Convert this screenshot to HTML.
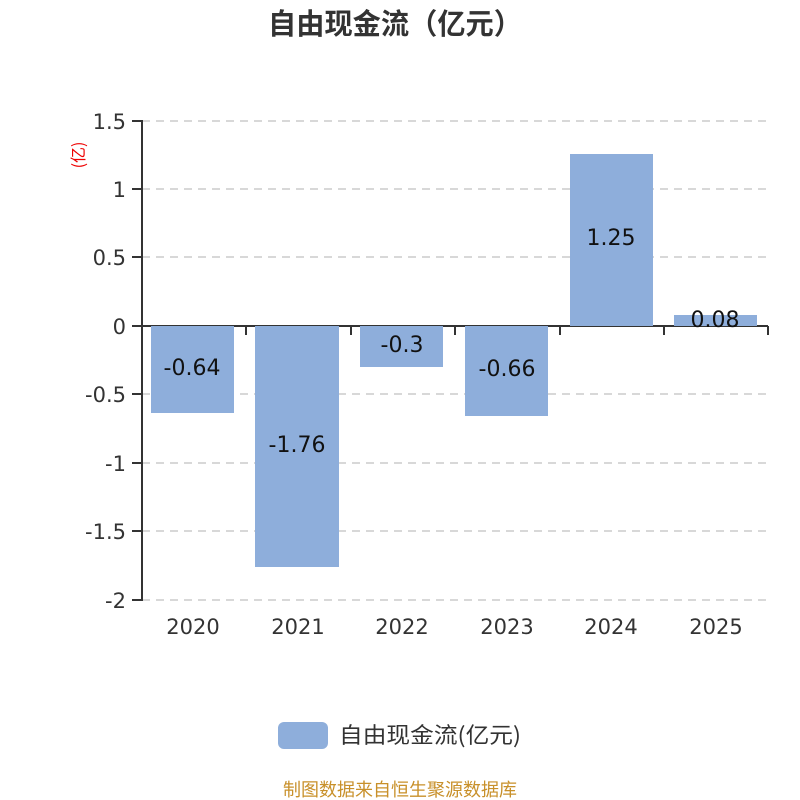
<!DOCTYPE html>
<html><head><meta charset="utf-8"><style>
html,body{margin:0;padding:0;background:#fff;width:800px;height:800px;overflow:hidden}
svg text{font-family:"DejaVu Sans","Noto Sans CJK SC",sans-serif}
</style></head><body>
<svg width="800" height="800" viewBox="0 0 800 800" xmlns="http://www.w3.org/2000/svg">
<rect width="800" height="800" fill="#fff"/>
<text x="395" y="34" text-anchor="middle" font-size="29" font-weight="bold" fill="#333" textLength="254" lengthAdjust="spacingAndGlyphs" style="font-family:'Noto Sans CJK SC',sans-serif">自由现金流（亿元）</text>
<g stroke="#ccc" stroke-width="1.5" stroke-dasharray="8,6">
<line x1="142" y1="121" x2="768" y2="121"/>
<line x1="142" y1="189" x2="768" y2="189"/>
<line x1="142" y1="257" x2="768" y2="257"/>
<line x1="142" y1="394" x2="768" y2="394"/>
<line x1="142" y1="463" x2="768" y2="463"/>
<line x1="142" y1="531" x2="768" y2="531"/>
<line x1="142" y1="600" x2="768" y2="600"/>
</g>
<text transform="translate(84,155) rotate(-90)" text-anchor="middle" font-size="16" fill="#e00" style="font-family:'Noto Sans CJK SC',sans-serif">(亿)</text>
<g stroke="#333" stroke-width="2" fill="none">
<line x1="142" y1="120" x2="142" y2="601"/>
<line x1="132" y1="121" x2="142" y2="121"/>
<line x1="132" y1="189" x2="142" y2="189"/>
<line x1="132" y1="257" x2="142" y2="257"/>
<line x1="132" y1="326" x2="142" y2="326"/>
<line x1="132" y1="394" x2="142" y2="394"/>
<line x1="132" y1="463" x2="142" y2="463"/>
<line x1="132" y1="531" x2="142" y2="531"/>
<line x1="132" y1="600" x2="142" y2="600"/>
<line x1="142" y1="326" x2="768" y2="326"/>
<line x1="246" y1="326" x2="246" y2="335"/>
<line x1="351" y1="326" x2="351" y2="335"/>
<line x1="455" y1="326" x2="455" y2="335"/>
<line x1="560" y1="326" x2="560" y2="335"/>
<line x1="664" y1="326" x2="664" y2="335"/>
<line x1="768" y1="326" x2="768" y2="335"/>
</g>
<g font-size="21" fill="#333" text-anchor="end">
<text x="126" y="129">1.5</text>
<text x="126" y="197">1</text>
<text x="126" y="265">0.5</text>
<text x="126" y="334">0</text>
<text x="126" y="402">-0.5</text>
<text x="126" y="471">-1</text>
<text x="126" y="539">-1.5</text>
<text x="126" y="608">-2</text>
</g>
<g fill="#8eaedb">
<rect x="151" y="326" width="83" height="87"/>
<rect x="255" y="326" width="84" height="241"/>
<rect x="360" y="326" width="83" height="41"/>
<rect x="465" y="326" width="83" height="90"/>
<rect x="570" y="154" width="83" height="172"/>
<rect x="674" y="315" width="83" height="11"/>
</g>
<g font-size="22" fill="#111" text-anchor="middle">
<text x="192" y="375">-0.64</text>
<text x="297" y="452">-1.76</text>
<text x="402" y="352">-0.3</text>
<text x="507" y="376">-0.66</text>
<text x="611" y="245">1.25</text>
<text x="715" y="327">0.08</text>
</g>
<g font-size="21" fill="#333" text-anchor="middle">
<text x="193" y="634">2020</text>
<text x="298" y="634">2021</text>
<text x="402" y="634">2022</text>
<text x="507" y="634">2023</text>
<text x="611" y="634">2024</text>
<text x="716" y="634">2025</text>
</g>
<rect x="278" y="722" width="50" height="27" rx="6" fill="#8eaedb"/>
<text x="339" y="743" font-size="22" fill="#333" textLength="182" lengthAdjust="spacingAndGlyphs" style="font-family:'Noto Sans CJK SC',sans-serif">自由现金流(亿元)</text>
<text x="400" y="796" text-anchor="middle" font-size="18" fill="#c8902a" textLength="234" lengthAdjust="spacingAndGlyphs" style="font-family:'Noto Sans CJK SC',sans-serif">制图数据来自恒生聚源数据库</text>
</svg>
</body></html>
